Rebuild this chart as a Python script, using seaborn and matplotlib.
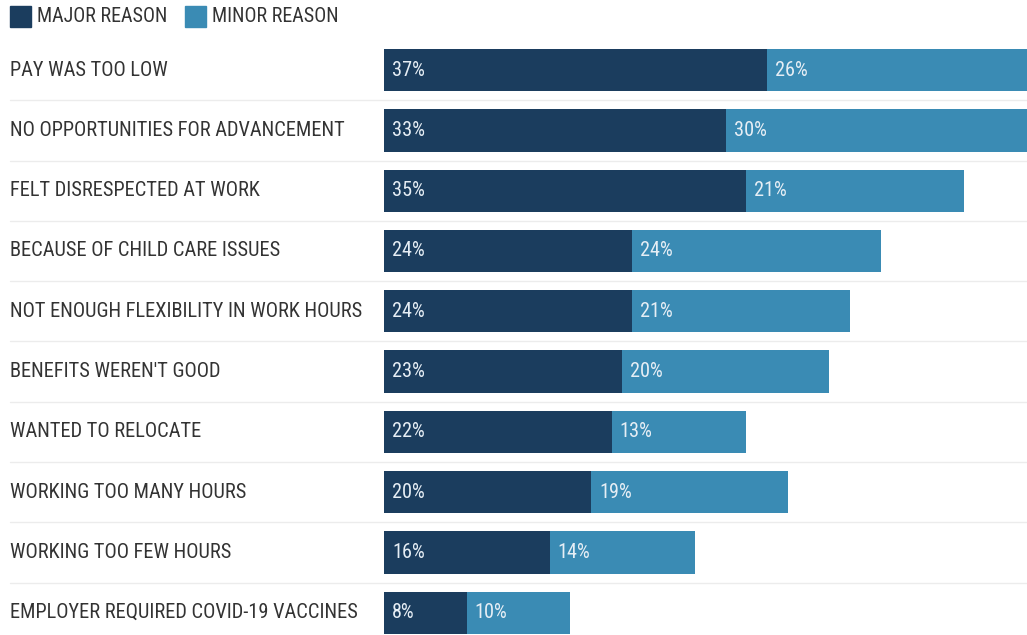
import matplotlib
matplotlib.use("Agg")
import matplotlib.pyplot as plt
import seaborn as sns
import pandas as pd
from matplotlib.patches import Rectangle
from matplotlib.transforms import blended_transform_factory
from matplotlib import font_manager

reasons = [
    "PAY WAS TOO LOW",
    "NO OPPORTUNITIES FOR ADVANCEMENT",
    "FELT DISRESPECTED AT WORK",
    "BECAUSE OF CHILD CARE ISSUES",
    "NOT ENOUGH FLEXIBILITY IN WORK HOURS",
    "BENEFITS WEREN'T GOOD",
    "WANTED TO RELOCATE",
    "WORKING TOO MANY HOURS",
    "WORKING TOO FEW HOURS",
    "EMPLOYER REQUIRED COVID-19 VACCINES",
]
major = [37, 33, 35, 24, 24, 23, 22, 20, 16, 8]
minor = [26, 30, 21, 24, 21, 20, 13, 19, 14, 10]
legend_labels = ["MAJOR REASON", "MINOR REASON"]

DARK = "#1b3d5e"
LIGHT = "#3a8bb4"
TEXT = "#333333"

sns.set_theme(style="white")

# pick a narrow font if available
names = {f.name for f in font_manager.fontManager.ttflist}
family = "DejaVu Sans"
stretch = "normal"
for cand in ["Liberation Sans Narrow", "Roboto Condensed", "Open Sans Condensed",
             "Noto Sans Condensed", "Roboto", "Liberation Sans"]:
    if cand in names:
        family = cand
        break
plt.rcParams["font.family"] = [family, "DejaVu Sans"]

df = pd.DataFrame({"reason": reasons, "major": major, "minor": minor})
df["total"] = df["major"] + df["minor"]

W, H = 1027, 635
fig = plt.figure(figsize=(W / 100, H / 100), dpi=100)
renderer = fig.canvas.get_renderer()


def fit_size(s, target_px, base=14):
    t = fig.text(0, 0, s, fontsize=base)
    w = t.get_window_extent(renderer).width
    t.remove()
    return base * target_px / w


label_fs = fit_size("EMPLOYER REQUIRED COVID-19 VACCINES", 350)
pct_fs = fit_size("37%", 33)
legend_fs = fit_size("MAJOR REASON", 131)

ax_left = 384 / W
ax = fig.add_axes([ax_left, 0, 1 - ax_left, (H - 40) / H])

sns.barplot(data=df, y="reason", x="total", color=LIGHT, orient="h",
            width=0.7, ax=ax, saturation=1, linewidth=0)
sns.barplot(data=df, y="reason", x="major", color=DARK, orient="h",
            width=0.7, ax=ax, saturation=1, linewidth=0)

px_per_unit = 10.35
ax.set_xlim(0, (W - 384) / px_per_unit)
ax.set_ylim(9.37, -0.5)
ax.axis("off")

off = 8 / px_per_unit
for i, (mj, mn) in enumerate(zip(major, minor)):
    ax.text(off, i, f"{mj}%", color="#e6eef5", va="center", ha="left", fontsize=pct_fs)
    ax.text(mj + off, i, f"{mn}%", color="#e6eef5", va="center", ha="left", fontsize=pct_fs)

trans = blended_transform_factory(fig.transFigure, ax.transData)
for i, r in enumerate(reasons):
    ax.text(10 / W, i, r, transform=trans, color=TEXT, va="center", ha="left",
            fontsize=label_fs)
for i in range(len(reasons) - 1):
    ax.plot([10 / W, 1], [i + 0.5, i + 0.5], transform=trans, color="#ececec",
            lw=1, clip_on=False, zorder=0)

# legend
for (x0, lab, col) in [(10, legend_labels[0], DARK), (185, legend_labels[1], LIGHT)]:
    fig.patches.append(Rectangle((x0 / W, (H - 27) / H), 21 / W, 21 / H,
                                 transform=fig.transFigure, color=col))
    fig.text((x0 + 27) / W, (H - 16) / H, lab, color=TEXT, va="center",
             ha="left", fontsize=legend_fs)

fig.savefig("out.png", dpi=100)
